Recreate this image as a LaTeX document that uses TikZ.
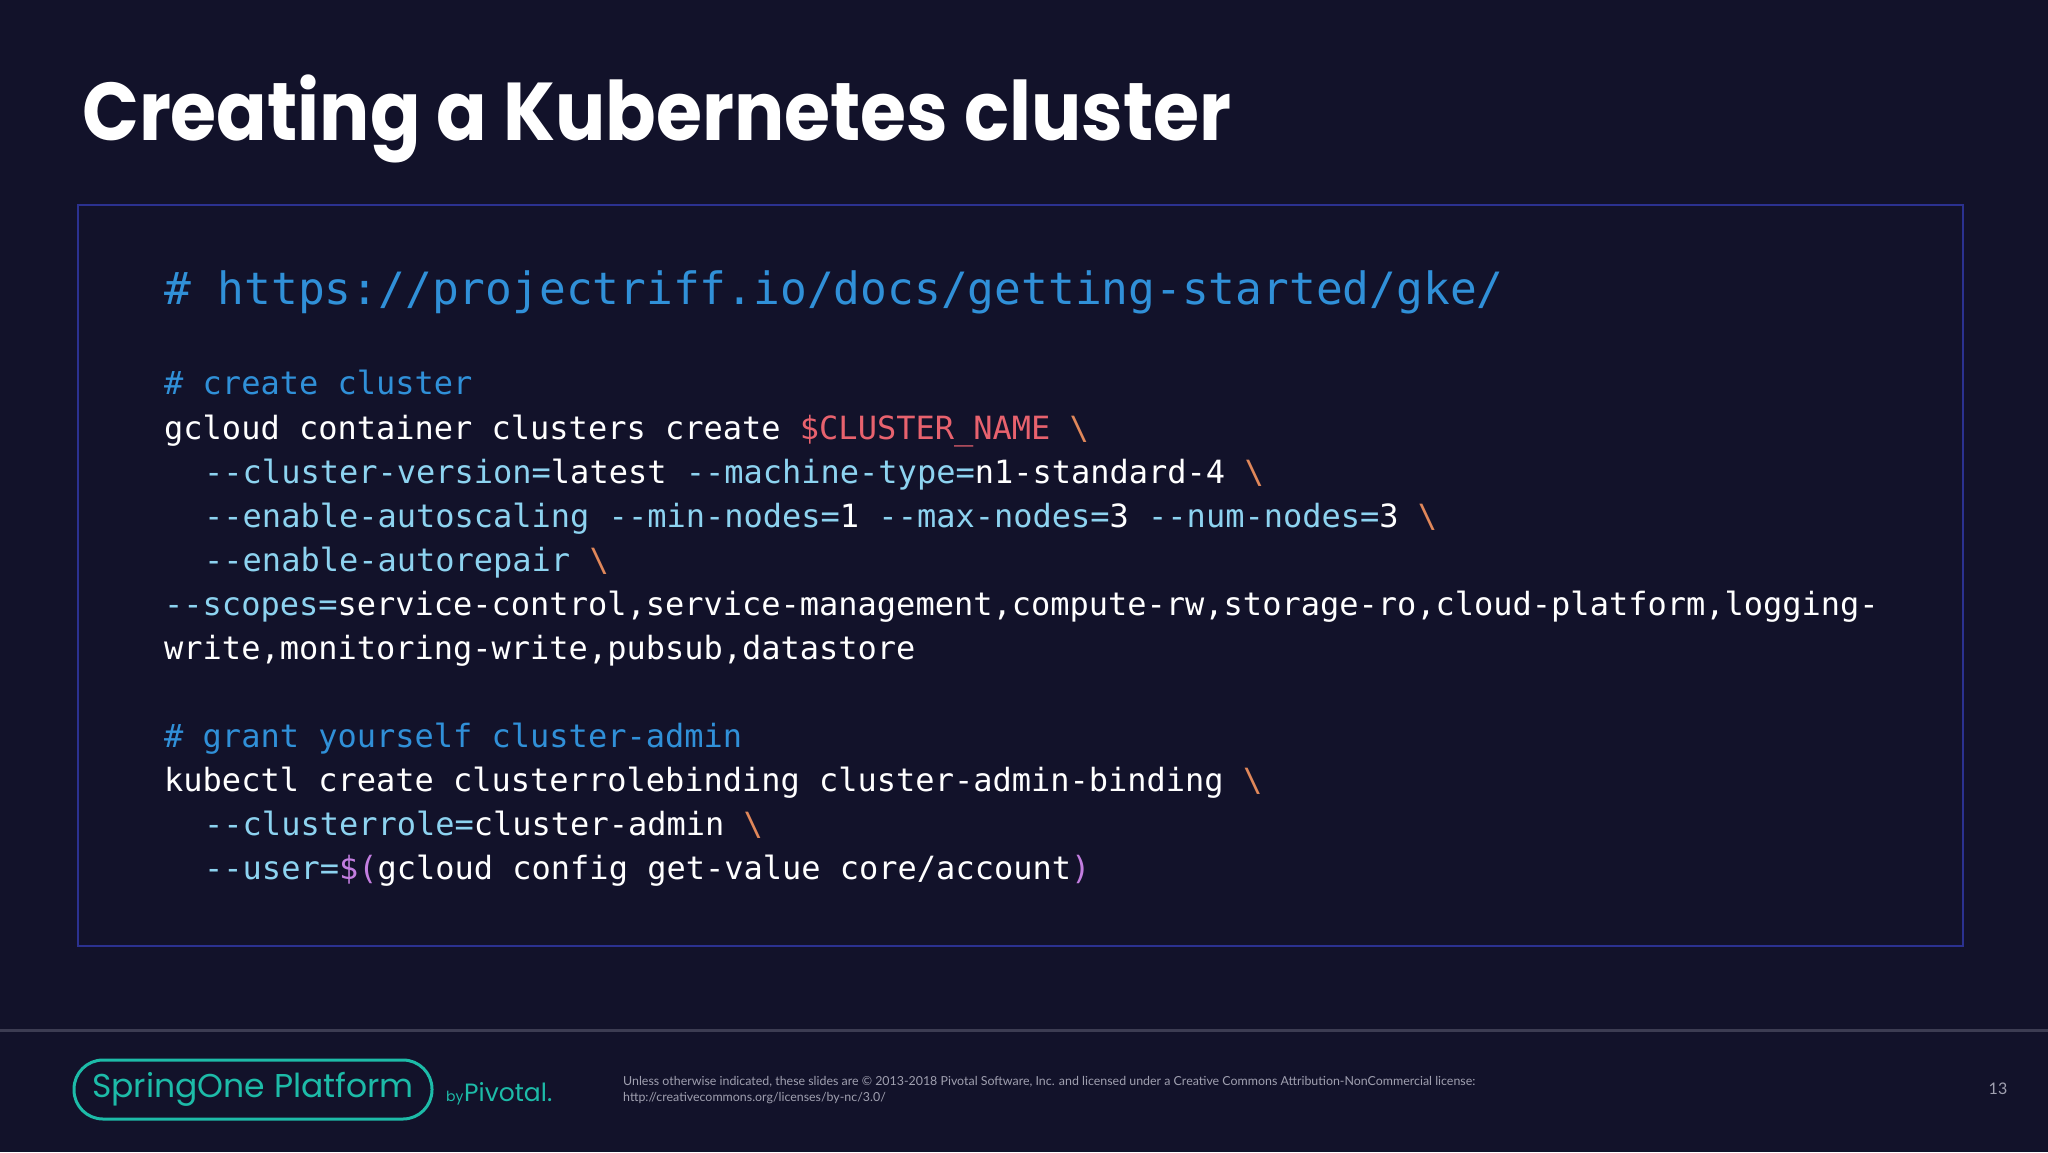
\documentclass[tikz,border=0pt]{standalone}
\usepackage{fontspec}
\setmainfont{Poppins}
\setmonofont{DejaVu Sans Mono}
\newfontfamily\foot{Lato}
\definecolor{bg}{HTML}{12122A}
\definecolor{boxc}{HTML}{2B3190}
\definecolor{cmt}{HTML}{3090D8}
\definecolor{flag}{HTML}{8DD3F0}
\definecolor{var}{HTML}{E8626E}
\definecolor{bsl}{HTML}{E0875A}
\definecolor{purp}{HTML}{C37EE0}
\definecolor{teal}{HTML}{1DBBA8}
\definecolor{rule}{HTML}{3C3C52}
\definecolor{ftxt}{HTML}{A0A0B0}
\newcommand{\BS}{\textcolor{bsl}{\textbackslash}}
\newcommand{\F}[1]{\textcolor{flag}{#1}}
\begin{document}
\begin{tikzpicture}[x=1pt,y=-1pt,
  code/.style={anchor=base west,inner sep=0pt,text=white,font=\ttfamily\fontsize{32}{32}\selectfont},
  cmtline/.style={code,text=cmt}]
\fill[bg] (0,0) rectangle (2048,1152);
\useasboundingbox (0,0) rectangle (2048,1152);
\node[anchor=base west,inner sep=0pt,text=white,font=\fontsize{82}{82}\selectfont\bfseries] (title) at (82,140) {\scalebox{0.91}[1]{Creating a Kubernetes cluster}};
\draw[boxc,line width=2.5] (78,205) rectangle (1963,946);
\node[cmtline,font=\ttfamily\fontsize{44.5}{44.5}\selectfont] (url) at (164,304) {\#~https://projectriff.io/docs/getting-started/gke/};
\node[cmtline] (c1) at (164,394) {\#~create cluster};
\node[code] (l1) at (164,439) {gcloud container clusters create \textcolor{var}{\$CLUSTER\_NAME} \BS};
\node[code] (l2) at (204,483) {\F{--cluster-version=}latest \F{--machine-type=}n1-standard-4 \BS};
\node[code] (l3) at (204,527) {\F{--enable-autoscaling --min-nodes=}1 \F{--max-nodes=}3 \F{--num-nodes=}3 \BS};
\node[code] (l4) at (204,571) {\F{--enable-autorepair} \BS};
\node[code] (l5) at (164,615) {\F{--scopes=}service-control,service-management,compute-rw,storage-ro,cloud-platform,logging-};
\node[code] (l6) at (164,659) {write,monitoring-write,pubsub,datastore};
\node[cmtline] (c2) at (164,747) {\#~grant yourself cluster-admin};
\node[code] (k1) at (164,791) {kubectl create clusterrolebinding cluster-admin-binding \BS};
\node[code] (k2) at (204,835) {\F{--clusterrole=}cluster-admin \BS};
\node[code] (k3) at (204,879) {\F{--user=}\textcolor{purp}{\$(}gcloud config get-value core/account\textcolor{purp}{)}};
\draw[rule,line width=3] (0,1030) -- (2048,1030);
\draw[teal,line width=3,rounded corners=29] (74,1060) rectangle (432,1119);
\node[anchor=center,inner sep=0pt,text=teal,font=\fontsize{33}{33}\selectfont] (logo) at (253,1089) {SpringOne Platform};
\node[anchor=base west,inner sep=0pt,text=teal,font=\fontsize{14}{14}\selectfont] (by) at (446,1101) {by};
\node[anchor=base west,inner sep=0pt,text=teal,font=\fontsize{25}{25}\selectfont] (piv) at (464,1101) {Pivotal.};
\node[anchor=base west,inner sep=0pt,text=ftxt,font=\foot\fontsize{12.4}{12.4}\selectfont,align=left] (lic) at (623,1085) {Unless otherwise indicated, these slides are \textcopyright{} 2013-2018 Pivotal Software, Inc. and licensed under a Creative Commons Attribution-NonCommercial license:};
\node[anchor=base west,inner sep=0pt,text=ftxt,font=\foot\fontsize{12.4}{12.4}\selectfont] (lic2) at (623,1101) {http://creativecommons.org/licenses/by-nc/3.0/};
\node[anchor=base,inner sep=0pt,text=ftxt,font=\foot\fontsize{16}{16}\selectfont] (pg) at (1998,1094) {13};
\end{tikzpicture}
\end{document}
